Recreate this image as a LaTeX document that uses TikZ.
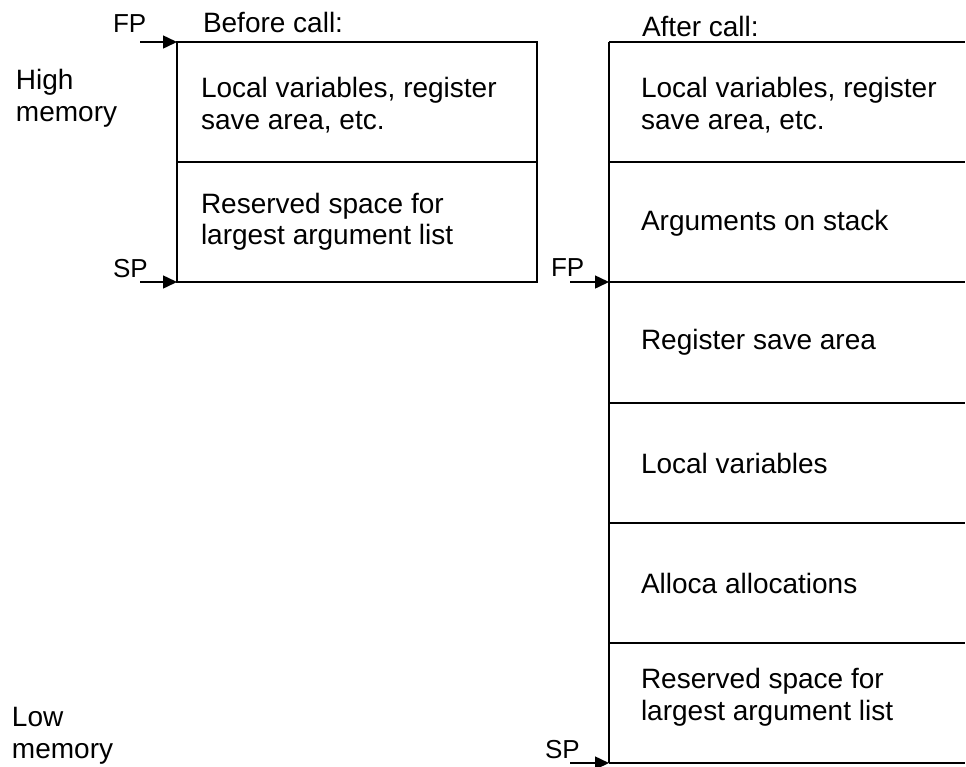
\documentclass[tikz,border=0pt]{standalone}
\usepackage{fontspec}
\setmainfont{Liberation Sans}
\usetikzlibrary{arrows.meta}

\begin{document}
\begin{tikzpicture}
		[x=1pt,y=-1pt,line width=2pt,
		every node/.style={font=\fontsize{28}{31.5}\selectfont,inner sep=0pt},
		txt/.style={anchor=west,align=left},
		lbl/.style={anchor=base west},
		reg/.style={lbl,font=\fontsize{26}{30}\selectfont},
		ptr/.style={-{Triangle[length=14pt,width=13pt]},line width=1.5pt}]
		\useasboundingbox (0,0) rectangle (966,766);
		
		% frame before the call
		\draw (177,42) rectangle (537,282);
		\draw (177,162) -- (537,162);
		% frame after the call
		\draw (609,42) -- (609,763);
		\foreach \y in {42,162,282,403,523,643,763}
		\draw (609,\y) -- (965,\y);
		
		\coordinate (bfp) at (177,42);
		\coordinate (bsp) at (177,282);
		\coordinate (afp) at (609,282);
		\coordinate (asp) at (609,763);
		\coordinate (bfp0) at (140,42);
		\coordinate (bsp0) at (140,282);
		\coordinate (afp0) at (570,282);
		\coordinate (asp0) at (570,763);
		
		\node[reg] (fp1) at (112,32) {FP};
		\node[reg] (sp1) at (112,277) {SP};
		\node[reg] (fp2) at (550,276) {FP};
		\node[reg] (sp2) at (544,758) {SP};
		\node[lbl] (before) at (202,32) {Before call:};
		\node[lbl] (after) at (641,36) {After call:};
		\node[lbl,align=left] (high) at (15,121) {High\\memory};
		\node[lbl,align=left] (low) at (11,758) {Low\\memory};
		
		\node[txt] (b1) at (200,105) {Local variables, register\\save area, etc.};
		\node[txt] (b2) at (200,222) {Reserved space for\\largest argument list};
		\node[txt] (a1) at (640,105) {Local variables, register\\save area, etc.};
		\node[txt] (a2) at (640,223) {Arguments on stack};
		\node[txt] (a3) at (640,342) {Register save area};
		\node[txt] (a4) at (640,463) {Local variables};
		\node[txt] (a5) at (640,583) {Alloca allocations};
		\node[txt] (a6) at (640,697) {Reserved space for\\largest argument list};
		
		\foreach \from/\to in {bfp0/bfp,bsp0/bsp,afp0/afp,asp0/asp}
		\draw[ptr] (\from) -- (\to);
		\end{tikzpicture}
\end{document}
